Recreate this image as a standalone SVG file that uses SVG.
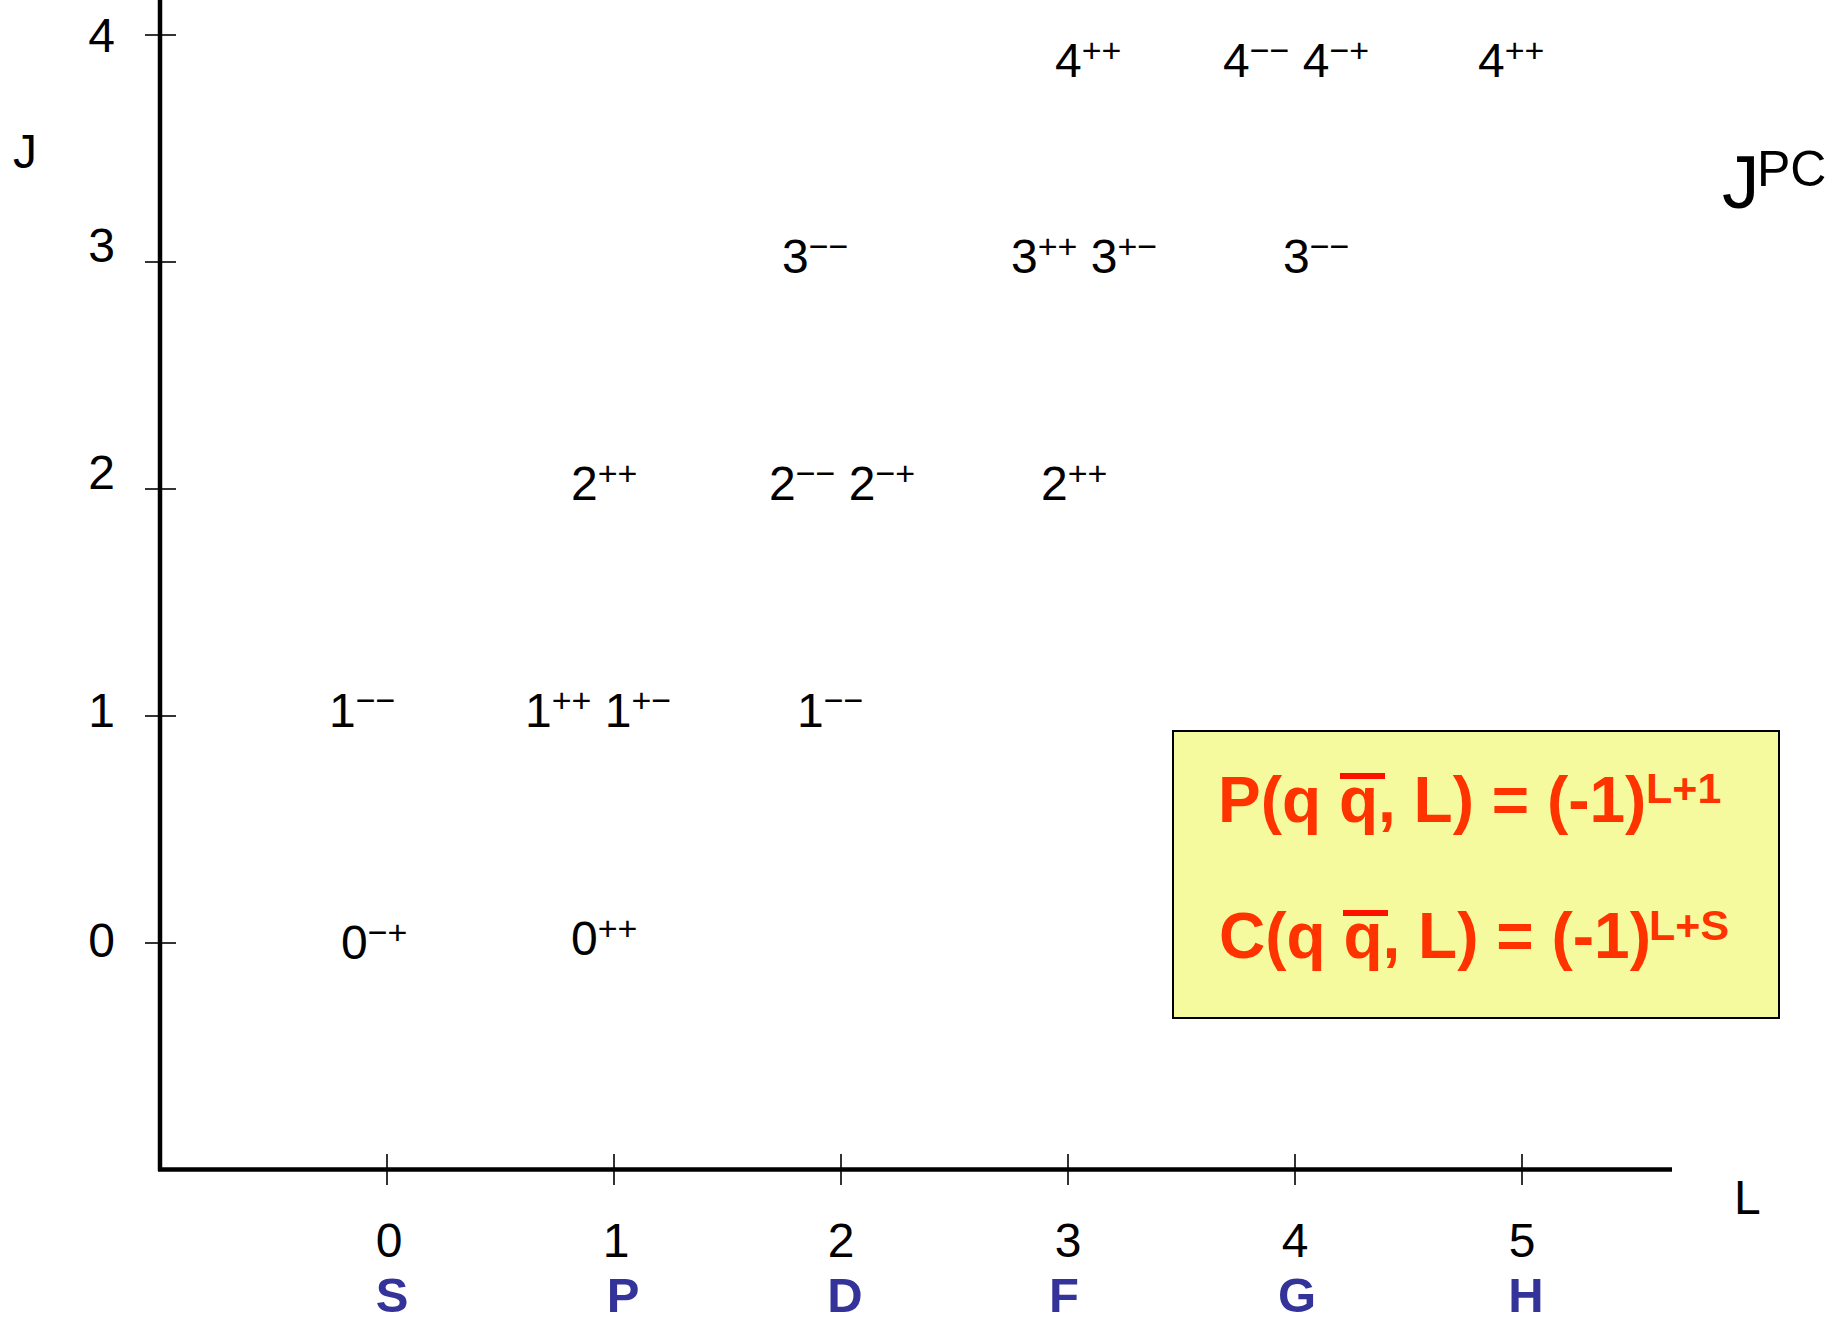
<svg xmlns="http://www.w3.org/2000/svg" width="1835" height="1319" viewBox="0 0 1835 1319">
<style>
  text { font-family: "Liberation Sans", Arial, sans-serif; fill: #000; }
  .ax { font-size: 48px; }
  .ylab { font-size: 48px; text-anchor: end; }
  .xlab { font-size: 48px; text-anchor: middle; }
  .wave { font-size: 49px; font-weight: bold; fill: #333399; text-anchor: middle; }
  .st { font-size: 48px; }
  .sup { font-size: 34px; }
  .fm { font-size: 64px; font-weight: bold; fill: #FF3300; }
  .fsup { font-size: 43px; font-weight: bold; fill: #FF3300; }
  .axis { stroke: #000; stroke-width: 4.5; fill: none; }
  .tick { stroke: #000; stroke-width: 1.6; fill: none; }
</style>

<g id="axes">
  <line class="axis" x1="160" y1="0" x2="160" y2="1171"/>
  <line class="axis" x1="158" y1="1169.5" x2="1672" y2="1169.5"/>
  <g id="y-ticks">
    <line class="tick" x1="145" y1="35" x2="176" y2="35"/>
    <line class="tick" x1="145" y1="262" x2="176" y2="262"/>
    <line class="tick" x1="145" y1="489" x2="176" y2="489"/>
    <line class="tick" x1="145" y1="716" x2="176" y2="716"/>
    <line class="tick" x1="145" y1="943" x2="176" y2="943"/>
  </g>
  <g id="x-ticks">
    <line class="tick" x1="387" y1="1154" x2="387" y2="1185"/>
    <line class="tick" x1="614" y1="1154" x2="614" y2="1185"/>
    <line class="tick" x1="841" y1="1154" x2="841" y2="1185"/>
    <line class="tick" x1="1068" y1="1154" x2="1068" y2="1185"/>
    <line class="tick" x1="1295" y1="1154" x2="1295" y2="1185"/>
    <line class="tick" x1="1522" y1="1154" x2="1522" y2="1185"/>
  </g>
</g>

<g id="axis-labels">
  <text class="ax" x="13" y="168">J</text>
  <text class="ax" x="1734" y="1214">L</text>
  <text class="ylab" x="115" y="52">4</text>
  <text class="ylab" x="115" y="262">3</text>
  <text class="ylab" x="115" y="489">2</text>
  <text class="ylab" x="115" y="727">1</text>
  <text class="ylab" x="115" y="957">0</text>
  <text class="xlab" x="389" y="1257">0</text>
  <text class="xlab" x="616" y="1257">1</text>
  <text class="xlab" x="841" y="1257">2</text>
  <text class="xlab" x="1068" y="1257">3</text>
  <text class="xlab" x="1295" y="1257">4</text>
  <text class="xlab" x="1522" y="1257">5</text>
  <text class="wave" x="392" y="1312">S</text>
  <text class="wave" x="623" y="1312">P</text>
  <text class="wave" x="845" y="1312">D</text>
  <text class="wave" x="1064" y="1312">F</text>
  <text class="wave" x="1297" y="1312">G</text>
  <text class="wave" x="1526" y="1312">H</text>
  <text x="1722" y="208" style="font-size:75px">J<tspan x="1757" y="186" style="font-size:50px">PC</tspan></text>
</g>

<g id="state-0-S"><text class="st" x="341" y="959">0<tspan class="sup" dy="-15">−+</tspan></text></g>
<g id="state-0-P"><text class="st" x="571" y="955">0<tspan class="sup" dy="-15">++</tspan></text></g>

<g id="state-1-S"><text class="st" x="329" y="727">1<tspan class="sup" dy="-15">−−</tspan></text></g>
<g id="state-1-P"><text class="st" x="525" y="727">1<tspan class="sup" dy="-15">++</tspan><tspan dy="15"> 1</tspan><tspan class="sup" dy="-15">+−</tspan></text></g>
<g id="state-1-D"><text class="st" x="797" y="727">1<tspan class="sup" dy="-15">−−</tspan></text></g>

<g id="state-2-P"><text class="st" x="571" y="500">2<tspan class="sup" dy="-15">++</tspan></text></g>
<g id="state-2-D"><text class="st" x="769" y="500">2<tspan class="sup" dy="-15">−−</tspan><tspan dy="15"> 2</tspan><tspan class="sup" dy="-15">−+</tspan></text></g>
<g id="state-2-F"><text class="st" x="1041" y="500">2<tspan class="sup" dy="-15">++</tspan></text></g>

<g id="state-3-D"><text class="st" x="782" y="273">3<tspan class="sup" dy="-15">−−</tspan></text></g>
<g id="state-3-F"><text class="st" x="1011" y="273">3<tspan class="sup" dy="-15">++</tspan><tspan dy="15"> 3</tspan><tspan class="sup" dy="-15">+−</tspan></text></g>
<g id="state-3-G"><text class="st" x="1283" y="273">3<tspan class="sup" dy="-15">−−</tspan></text></g>

<g id="state-4-F"><text class="st" x="1055" y="77">4<tspan class="sup" dy="-15">++</tspan></text></g>
<g id="state-4-G"><text class="st" x="1223" y="77">4<tspan class="sup" dy="-15">−−</tspan><tspan dy="15"> 4</tspan><tspan class="sup" dy="-15">−+</tspan></text></g>
<g id="state-4-H"><text class="st" x="1478" y="77">4<tspan class="sup" dy="-15">++</tspan></text></g>

<g id="formula-box">
  <rect x="1173" y="731" width="606" height="287" fill="#F6FA9E" stroke="#000" stroke-width="2"/>
  <text class="fm" x="1218" y="822">P(q q, L) = (-1)</text>
  <text class="fsup" x="1646" y="803">L+1</text>
  <rect x="1340" y="773" width="45" height="6" fill="#FF1100"/>
  <text class="fm" x="1219" y="958">C(q q, L) = (-1)</text>
  <text class="fsup" x="1649" y="940">L+S</text>
  <rect x="1343" y="910" width="45" height="6" fill="#FF1100"/>
</g>
</svg>
